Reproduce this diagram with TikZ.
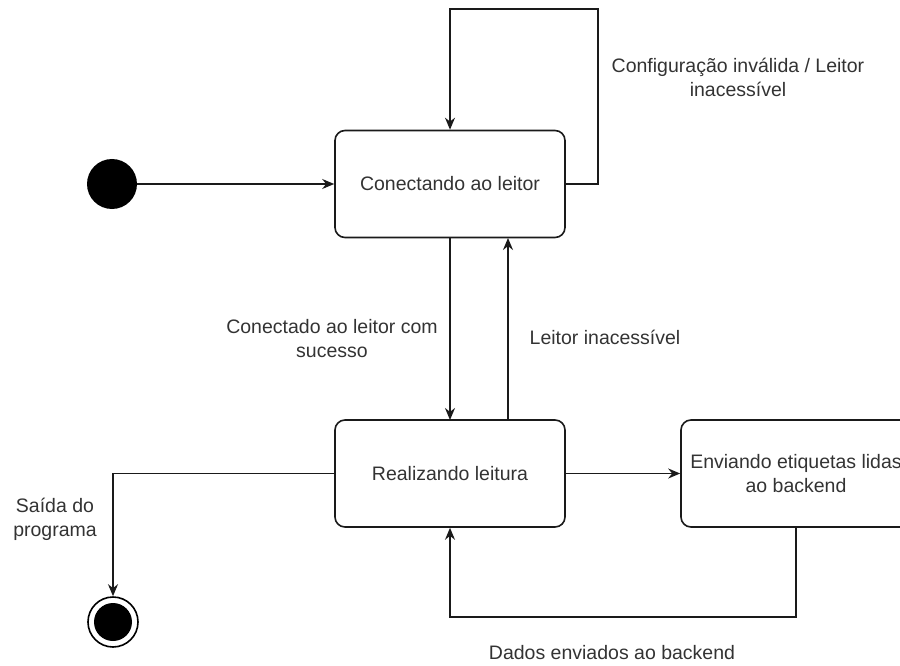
\documentclass[tikz,border=0pt]{standalone}
\usepackage{fontspec}
\setmainfont{Liberation Sans}
\usetikzlibrary{arrows.meta}
\definecolor{ln}{HTML}{1A1A1A}
\definecolor{tx}{HTML}{333333}
\begin{document}
\begin{tikzpicture}[x=1pt,y=-1pt,
  every node/.style={font=\fontsize{19.5}{24}\selectfont, text=tx},
  state/.style={draw=ln, line width=1.6pt, rounded corners=10pt, minimum width=230pt, minimum height=107pt, align=center, inner sep=0pt},
  conn/.style={draw=ln, line width=1.4pt, -{Stealth[length=12pt,width=10pt]}},
  lbl/.style={align=center, inner sep=0pt}]
\useasboundingbox (0,0) rectangle (900,666);
\clip (0,0) rectangle (900,666);
% states
\node[circle, fill=black, minimum size=50pt, inner sep=0pt] (init) at (112,184) {};
\node[state] (b1) at (450,184) {Conectando ao leitor};
\node[state] (b2) at (450,473.5) {Realizando leitura};
\node[state] (b3) at (796,473.5) {Enviando etiquetas lidas\\ao backend};
\node[circle, draw=black, line width=1.6pt, minimum size=50pt, inner sep=0pt] (fin) at (113,622) {};
\node[circle, fill=black, minimum size=38pt, inner sep=0pt] at (fin) {};
% coordinates
\coordinate (t1) at (598,9);
\coordinate (t2) at (450,9);
\coordinate (bt1) at (796,617);
\coordinate (bt2) at (450,617);
\coordinate (ex) at (113,473.5);
% connectors
\draw[conn] (init.east) -- (b1.west);
\draw[conn] (b1.east) -| (t1) -- (t2) -- (b1.north);
\draw[conn] (450,238) -- (450,420);
\draw[conn] (508,420) -- (508,238);
\draw[conn] (b2.east) -- (b3.west);
\draw[conn] (b3.south) -- (bt1) -- (bt2) -- (b2.south);
\draw[conn] (b2.west) -- (ex) -- (fin.north);
% labels
\node[lbl] (l1) at (738,77) {Configuração inválida / Leitor\\inacessível};
\node[lbl] (l2) at (332,338.5) {Conectado ao leitor com\\sucesso};
\node[lbl] (l3) at (605,337) {Leitor inacessível};
\node[lbl] (l4) at (55,519.5) {Saída do\\programa};
\node[lbl] (l5) at (612,653) {Dados enviados ao backend};
\end{tikzpicture}
\end{document}
